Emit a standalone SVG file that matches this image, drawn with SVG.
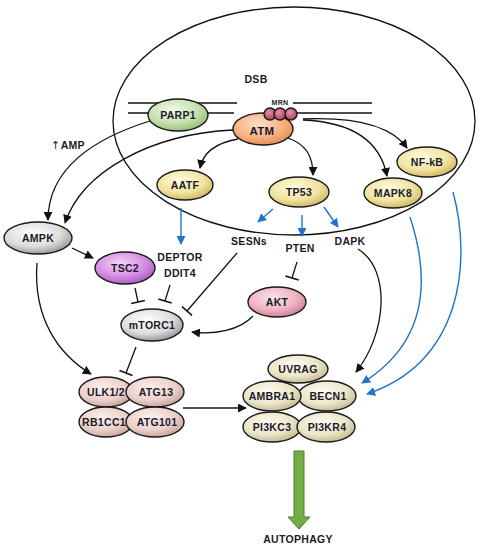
<svg xmlns="http://www.w3.org/2000/svg" width="484" height="550" viewBox="0 0 484 550">
<defs>
<style>
.lbl{font-family:"Liberation Sans",Arial,sans-serif;font-weight:bold;font-size:10.5px;fill:#1a1a2a;text-anchor:middle;dominant-baseline:central;letter-spacing:0.3px}
.node{stroke:#1a1a1a;stroke-width:1.4}
.ln{fill:none;stroke:#111;stroke-width:1.3}
.bl{fill:none;stroke:#1f74cc;stroke-width:1.4}
.dna{stroke:#111;stroke-width:1.3}
</style>
<radialGradient id="gY" cx="0.42" cy="0.35" r="0.7"><stop offset="0" stop-color="#fffbe0"/><stop offset="0.6" stop-color="#f1e3a0"/><stop offset="1" stop-color="#c9b25a"/></radialGradient>
<radialGradient id="gG" cx="0.42" cy="0.35" r="0.7"><stop offset="0" stop-color="#f2f9ea"/><stop offset="0.6" stop-color="#c5e0ad"/><stop offset="1" stop-color="#8fba72"/></radialGradient>
<radialGradient id="gO" cx="0.42" cy="0.35" r="0.7"><stop offset="0" stop-color="#fde0c8"/><stop offset="0.6" stop-color="#f6b082"/><stop offset="1" stop-color="#e08850"/></radialGradient>
<radialGradient id="gGr" cx="0.42" cy="0.35" r="0.7"><stop offset="0" stop-color="#ffffff"/><stop offset="0.6" stop-color="#dcdcdc"/><stop offset="1" stop-color="#8e8e8e"/></radialGradient>
<radialGradient id="gP" cx="0.42" cy="0.35" r="0.7"><stop offset="0" stop-color="#f4d2f8"/><stop offset="0.6" stop-color="#d58ee2"/><stop offset="1" stop-color="#a457b8"/></radialGradient>
<radialGradient id="gK" cx="0.42" cy="0.35" r="0.7"><stop offset="0" stop-color="#fbe2ea"/><stop offset="0.6" stop-color="#eeb2c2"/><stop offset="1" stop-color="#c8788e"/></radialGradient>
<radialGradient id="gU" cx="0.42" cy="0.35" r="0.7"><stop offset="0" stop-color="#fbefec"/><stop offset="0.6" stop-color="#ecd1cb"/><stop offset="1" stop-color="#c39d95"/></radialGradient>
<radialGradient id="gB" cx="0.42" cy="0.35" r="0.7"><stop offset="0" stop-color="#fdfbf1"/><stop offset="0.6" stop-color="#ebe5c8"/><stop offset="1" stop-color="#bdb38a"/></radialGradient>
<radialGradient id="gM" cx="0.4" cy="0.35" r="0.7"><stop offset="0" stop-color="#e890a8"/><stop offset="1" stop-color="#a83a5a"/></radialGradient>
<marker id="ah" viewBox="0 0 10 10" refX="9" refY="5" markerWidth="9" markerHeight="9" markerUnits="userSpaceOnUse" orient="auto"><path d="M0,0 L10,5 L0,10 z" fill="#111"/></marker>
<marker id="ahb" viewBox="0 0 10 10" refX="9" refY="5" markerWidth="9" markerHeight="9" markerUnits="userSpaceOnUse" orient="auto"><path d="M0,0 L10,5 L0,10 z" fill="#1f74cc"/></marker>
<marker id="bar" viewBox="0 0 4 14" refX="2" refY="7" markerWidth="4" markerHeight="14" markerUnits="userSpaceOnUse" orient="auto"><path d="M2,0 L2,14" stroke="#111" stroke-width="1.5"/></marker>
</defs>
<rect width="484" height="550" fill="#ffffff"/>

<g id="nucleus">
<ellipse cx="294" cy="121" rx="181" ry="114" fill="none" stroke="#111" stroke-width="1.3"/>
<text class="lbl" x="256" y="79">DSB</text>
<line class="dna" x1="128" y1="103" x2="237" y2="103"/>
<line class="dna" x1="128" y1="113" x2="234" y2="113"/>
<line class="dna" x1="293" y1="103" x2="372" y2="103"/>
<line class="dna" x1="296" y1="113" x2="372" y2="113"/>
</g>

<g id="connectors">
<text class="lbl" x="68" y="145"><tspan style="font-family:'DejaVu Sans',sans-serif;font-weight:normal;font-size:11px">↑</tspan>AMP</text>
<path class="ln" d="M150,121 C95,138 48,168 48,220" marker-end="url(#ah)"/>
<path class="ln" d="M233,130 C150,134 82,172 65,223" marker-end="url(#ah)"/>
<path class="ln" d="M238,139 C215,143 203,153 200,168" marker-end="url(#ah)"/>
<path class="ln" d="M288,138 C305,144 313,155 313,175" marker-end="url(#ah)"/>
<path class="ln" d="M303,120 C350,122 380,140 387,176" marker-end="url(#ah)"/>
<path class="ln" d="M303,119 C350,117 390,124 407,148" marker-end="url(#ah)"/>
<line class="bl" x1="181" y1="208" x2="181" y2="244" marker-end="url(#ahb)"/>
<line class="bl" x1="273" y1="209" x2="258" y2="222" marker-end="url(#ahb)"/>
<line class="bl" x1="302" y1="215" x2="302" y2="236" marker-end="url(#ahb)"/>
<line class="bl" x1="324" y1="207" x2="338" y2="227" marker-end="url(#ahb)"/>
<path class="bl" d="M410,217 C428,272 432,340 362,383" marker-end="url(#ahb)"/>
<path class="bl" d="M453,192 C472,262 462,362 367,394" marker-end="url(#ahb)"/>
<line class="ln" x1="297" y1="262" x2="292" y2="278" marker-end="url(#bar)"/>
<line class="ln" x1="237" y1="253" x2="187" y2="311" marker-end="url(#bar)"/>
<line class="ln" x1="170" y1="285" x2="165" y2="301" marker-end="url(#bar)"/>
<line class="ln" x1="135" y1="288" x2="138" y2="302" marker-end="url(#bar)"/>
<line class="ln" x1="72" y1="248" x2="93" y2="258" marker-end="url(#ah)"/>
<path class="ln" d="M37,263 C33,318 58,354 91,374" marker-end="url(#ah)"/>
<line class="ln" x1="136" y1="347" x2="126" y2="373" marker-end="url(#bar)"/>
<path class="ln" d="M253,316 C240,330 215,335 192,332" marker-end="url(#ah)"/>
<path class="ln" d="M358,249 C392,270 386,335 356,372" marker-end="url(#ah)"/>
<line class="ln" x1="183" y1="408" x2="246" y2="408" marker-end="url(#ah)"/>
</g>

<g id="PARP1"><ellipse class="node" cx="178" cy="115" rx="30" ry="16" fill="url(#gG)"/><text class="lbl" x="178" y="115">PARP1</text></g>
<g id="ATM"><ellipse class="node" cx="263" cy="129" rx="30" ry="16" fill="url(#gO)"/><text class="lbl" x="262" y="131" style="font-size:11.5px">ATM</text></g>
<g id="MRN">
<circle class="node" cx="270" cy="114" r="6" fill="url(#gM)"/>
<circle class="node" cx="280" cy="114" r="6" fill="url(#gM)"/>
<circle class="node" cx="291" cy="114" r="6" fill="url(#gM)"/>
<text class="lbl" x="280" y="102" style="font-size:7px">MRN</text>
</g>
<g id="AATF"><ellipse class="node" cx="185" cy="185" rx="28" ry="15" fill="url(#gY)"/><text class="lbl" x="185" y="185">AATF</text></g>
<g id="TP53"><ellipse class="node" cx="299" cy="192" rx="30" ry="15" fill="url(#gY)"/><text class="lbl" x="299" y="192">TP53</text></g>
<g id="NF-kB"><ellipse class="node" cx="427" cy="162" rx="30" ry="15" fill="url(#gY)"/><text class="lbl" x="427" y="162">NF-kB</text></g>
<g id="MAPK8"><ellipse class="node" cx="393" cy="193" rx="29" ry="15" fill="url(#gY)"/><text class="lbl" x="393" y="193">MAPK8</text></g>
<g id="AMPK"><ellipse class="node" cx="38" cy="238" rx="34" ry="16" fill="url(#gGr)"/><text class="lbl" x="38" y="238">AMPK</text></g>
<g id="TSC2"><ellipse class="node" cx="125" cy="268" rx="30" ry="16" fill="url(#gP)"/><text class="lbl" x="125" y="268">TSC2</text></g>
<g id="DEPTOR"><text class="lbl" x="180" y="257">DEPTOR</text><text class="lbl" x="180" y="273">DDIT4</text></g>
<g id="SESNs"><text class="lbl" x="249" y="241">SESNs</text></g>
<g id="PTEN"><text class="lbl" x="300" y="248">PTEN</text></g>
<g id="DAPK"><text class="lbl" x="350" y="241">DAPK</text></g>
<g id="mTORC1"><ellipse class="node" cx="152" cy="325" rx="31" ry="16" fill="url(#gGr)"/><text class="lbl" x="152" y="325">mTORC1</text></g>
<g id="AKT"><ellipse class="node" cx="277" cy="302" rx="29" ry="15" fill="url(#gK)"/><text class="lbl" x="277" y="302">AKT</text></g>

<g id="ULK1-2"><ellipse class="node" cx="106" cy="392" rx="27" ry="15" fill="url(#gU)"/><text class="lbl" x="106" y="392">ULK1/2</text></g>
<g id="ATG13"><ellipse class="node" cx="155" cy="392" rx="29" ry="15" fill="url(#gU)"/><text class="lbl" x="156" y="392">ATG13</text></g>
<g id="RB1CC1"><ellipse class="node" cx="106" cy="422" rx="27" ry="15" fill="url(#gU)"/><text class="lbl" x="104" y="422">RB1CC1</text></g>
<g id="ATG101"><ellipse class="node" cx="155" cy="422" rx="29" ry="15" fill="url(#gU)"/><text class="lbl" x="157" y="422">ATG101</text></g>

<g id="UVRAG"><ellipse class="node" cx="298" cy="369" rx="30" ry="14" fill="url(#gB)"/><text class="lbl" x="298" y="369">UVRAG</text></g>
<g id="BECN1"><ellipse class="node" cx="327" cy="396" rx="29" ry="15" fill="url(#gB)"/><text class="lbl" x="328" y="396">BECN1</text></g>
<g id="AMBRA1"><ellipse class="node" cx="272" cy="396" rx="29" ry="15" fill="url(#gB)"/><text class="lbl" x="272" y="396">AMBRA1</text></g>
<g id="PI3KC3"><ellipse class="node" cx="272" cy="427" rx="29" ry="15" fill="url(#gB)"/><text class="lbl" x="272" y="427">PI3KC3</text></g>
<g id="PI3KR4"><ellipse class="node" cx="326" cy="427" rx="29" ry="15" fill="url(#gB)"/><text class="lbl" x="327" y="427">PI3KR4</text></g>

<g id="autophagy">
<path d="M294,451 L304,451 L304,517 L310,517 L299,529 L288,517 L294,517 Z" fill="#72ad45" stroke="#4f7d2c" stroke-width="1"/>
<text class="lbl" x="298" y="539">AUTOPHAGY</text>
</g>
</svg>
